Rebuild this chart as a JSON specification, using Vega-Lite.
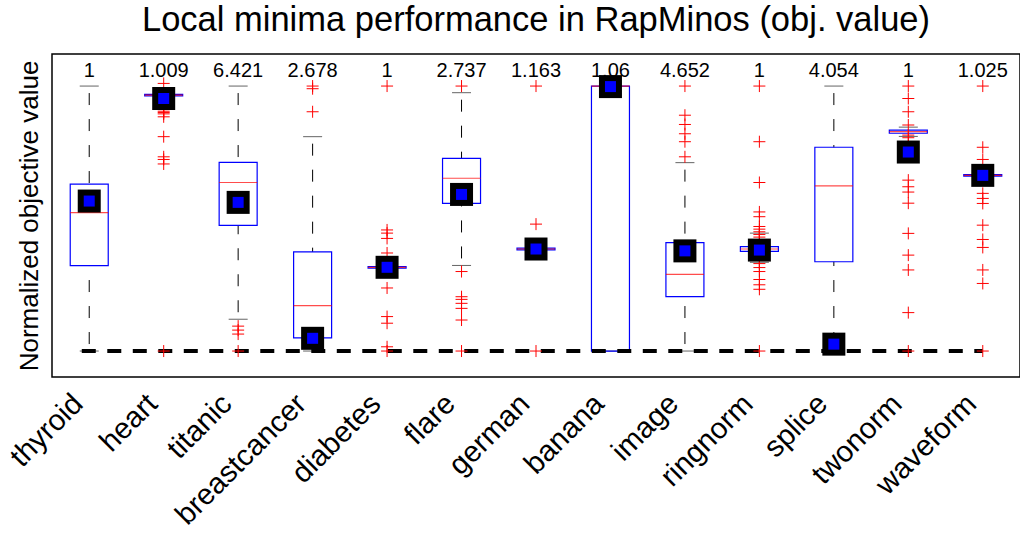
{
  "$schema": "https://vega.github.io/schema/vega-lite/v6.json",
  "autosize": "none",
  "width": 968,
  "height": 323,
  "padding": {"left": 52, "top": 54, "right": 0, "bottom": 158},
  "background": "white",
  "config": {
    "view": {"stroke": "black", "strokeWidth": 1.5},
    "font": "Liberation Sans"
  },
  "title": {
    "text": "Local minima performance in RapMinos (obj. value)",
    "fontSize": 34.5,
    "font": "Liberation Sans",
    "fontWeight": "normal",
    "color": "black",
    "anchor": "middle",
    "baseline": "alphabetic",
    "offset": 22,
    "dy": 33
  },
  "datasets": {
    "boxes": [
      {"cat": "thyroid", "lower": 0, "q1": 0.322, "median": 0.522, "q3": 0.63, "upper": 1.0, "mean": 0.566, "label": "1"},
      {"cat": "heart", "lower": 0.963, "q1": 0.963, "median": 0.966, "q3": 0.969, "upper": 0.969, "mean": 0.953, "label": "1.009"},
      {"cat": "titanic", "lower": 0.12, "q1": 0.474, "median": 0.636, "q3": 0.712, "upper": 1.0, "mean": 0.561, "label": "6.421"},
      {"cat": "breastcancer", "lower": 0.0, "q1": 0.05, "median": 0.171, "q3": 0.374, "upper": 0.809, "mean": 0.048, "label": "2.678"},
      {"cat": "diabetes", "lower": 0.313, "q1": 0.313, "median": 0.316, "q3": 0.319, "upper": 0.319, "mean": 0.316, "label": "1"},
      {"cat": "flare", "lower": 0.323, "q1": 0.557, "median": 0.652, "q3": 0.727, "upper": 0.975, "mean": 0.591, "label": "2.737"},
      {"cat": "german", "lower": 0.382, "q1": 0.382, "median": 0.385, "q3": 0.388, "upper": 0.388, "mean": 0.385, "label": "1.163"},
      {"cat": "banana", "lower": 0, "q1": 0, "median": 1.0, "q3": 1.0, "upper": 1.0, "mean": 0.998, "label": "1.06"},
      {"cat": "image", "lower": 0, "q1": 0.205, "median": 0.289, "q3": 0.409, "upper": 0.711, "mean": 0.378, "label": "4.652"},
      {"cat": "ringnorm", "lower": 0.335, "q1": 0.376, "median": 0.385, "q3": 0.394, "upper": 0.445, "mean": 0.381, "label": "1"},
      {"cat": "splice", "lower": 0, "q1": 0.337, "median": 0.623, "q3": 0.769, "upper": 1.0, "mean": 0.026, "label": "4.054"},
      {"cat": "twonorm", "lower": 0.81, "q1": 0.822, "median": 0.828, "q3": 0.834, "upper": 0.845, "mean": 0.751, "label": "1"},
      {"cat": "waveform", "lower": 0.66, "q1": 0.66, "median": 0.663, "q3": 0.666, "upper": 0.666, "mean": 0.663, "label": "1.025"}
    ],
    "outliers": [
      {"cat": "heart", "v": 1.01}, {"cat": "heart", "v": 0.905}, {"cat": "heart", "v": 0.9}, {"cat": "heart", "v": 0.895},
      {"cat": "heart", "v": 0.884}, {"cat": "heart", "v": 0.809}, {"cat": "heart", "v": 0.733}, {"cat": "heart", "v": 0.723},
      {"cat": "heart", "v": 0.706}, {"cat": "heart", "v": 0.0},
      {"cat": "titanic", "v": 0.094}, {"cat": "titanic", "v": 0.079}, {"cat": "titanic", "v": 0.064}, {"cat": "titanic", "v": 0.0},
      {"cat": "breastcancer", "v": 1.0}, {"cat": "breastcancer", "v": 0.99}, {"cat": "breastcancer", "v": 0.903},
      {"cat": "diabetes", "v": 1.0}, {"cat": "diabetes", "v": 0.457}, {"cat": "diabetes", "v": 0.445}, {"cat": "diabetes", "v": 0.425},
      {"cat": "diabetes", "v": 0.37}, {"cat": "diabetes", "v": 0.238}, {"cat": "diabetes", "v": 0.13}, {"cat": "diabetes", "v": 0.105},
      {"cat": "diabetes", "v": 0.016}, {"cat": "diabetes", "v": 0.0},
      {"cat": "flare", "v": 1.0}, {"cat": "flare", "v": 0.3}, {"cat": "flare", "v": 0.205}, {"cat": "flare", "v": 0.195},
      {"cat": "flare", "v": 0.18}, {"cat": "flare", "v": 0.161}, {"cat": "flare", "v": 0.117}, {"cat": "flare", "v": 0.0},
      {"cat": "german", "v": 1.0}, {"cat": "german", "v": 0.479}, {"cat": "german", "v": 0.0},
      {"cat": "image", "v": 1.0}, {"cat": "image", "v": 0.89}, {"cat": "image", "v": 0.855}, {"cat": "image", "v": 0.82},
      {"cat": "image", "v": 0.79}, {"cat": "image", "v": 0.733},
      {"cat": "ringnorm", "v": 1.0}, {"cat": "ringnorm", "v": 0.79}, {"cat": "ringnorm", "v": 0.636}, {"cat": "ringnorm", "v": 0.525},
      {"cat": "ringnorm", "v": 0.507}, {"cat": "ringnorm", "v": 0.47}, {"cat": "ringnorm", "v": 0.46}, {"cat": "ringnorm", "v": 0.45},
      {"cat": "ringnorm", "v": 0.44}, {"cat": "ringnorm", "v": 0.43}, {"cat": "ringnorm", "v": 0.42}, {"cat": "ringnorm", "v": 0.345},
      {"cat": "ringnorm", "v": 0.33}, {"cat": "ringnorm", "v": 0.315}, {"cat": "ringnorm", "v": 0.3}, {"cat": "ringnorm", "v": 0.27},
      {"cat": "ringnorm", "v": 0.25}, {"cat": "ringnorm", "v": 0.233}, {"cat": "ringnorm", "v": 0.0},
      {"cat": "twonorm", "v": 1.0}, {"cat": "twonorm", "v": 0.953}, {"cat": "twonorm", "v": 0.903}, {"cat": "twonorm", "v": 0.853},
      {"cat": "twonorm", "v": 0.815}, {"cat": "twonorm", "v": 0.805}, {"cat": "twonorm", "v": 0.645}, {"cat": "twonorm", "v": 0.62},
      {"cat": "twonorm", "v": 0.6}, {"cat": "twonorm", "v": 0.558}, {"cat": "twonorm", "v": 0.444}, {"cat": "twonorm", "v": 0.362},
      {"cat": "twonorm", "v": 0.306}, {"cat": "twonorm", "v": 0.145}, {"cat": "twonorm", "v": 0.0},
      {"cat": "waveform", "v": 1.0}, {"cat": "waveform", "v": 0.769}, {"cat": "waveform", "v": 0.723}, {"cat": "waveform", "v": 0.595},
      {"cat": "waveform", "v": 0.576}, {"cat": "waveform", "v": 0.557}, {"cat": "waveform", "v": 0.475}, {"cat": "waveform", "v": 0.421},
      {"cat": "waveform", "v": 0.391}, {"cat": "waveform", "v": 0.306}, {"cat": "waveform", "v": 0.255}, {"cat": "waveform", "v": 0.0}
    ],
    "zeroline": [{"start": "thyroid", "end": "waveform", "v": 0}]
  },
  "encoding": {
    "x": {
      "field": "cat", "type": "nominal", "sort": null,
      "scale": {"domain": ["thyroid","heart","titanic","breastcancer","diabetes","flare","german","banana","image","ringnorm","splice","twonorm","waveform"], "paddingInner": 0, "paddingOuter": 0},
      "axis": {"title": null, "ticks": false, "domain": false, "labelAngle": -45, "labelAlign": "right", "labelBaseline": "top",
               "labelFontSize": 29.5, "labelColor": "black", "labelPadding": 12, "labelOffset": -21, "labelFont": "Liberation Sans"}
    }
  },
  "layer": [
    {
      "data": {"name": "boxes"},
      "mark": {"type": "rule", "color": "black", "strokeWidth": 1, "strokeDash": [12, 14], "strokeDashOffset": 19},
      "encoding": {
        "y": {"field": "upper", "type": "quantitative",
              "scale": {"domain": [-0.098, 1.121], "nice": false, "zero": false},
              "axis": {"title": "Normalized objective value", "labels": false, "ticks": false, "domain": false, "grid": false,
                       "titleFontSize": 26, "titleFont": "Liberation Sans", "titleFontWeight": "normal", "titleColor": "black", "titlePadding": 10}},
        "y2": {"field": "q3"}
      }
    },
    {
      "data": {"name": "boxes"},
      "mark": {"type": "rule", "color": "black", "strokeWidth": 1, "strokeDash": [12, 14], "strokeDashOffset": 19},
      "encoding": {
        "y": {"field": "lower", "type": "quantitative"},
        "y2": {"field": "q1"}
      }
    },
    {
      "data": {"name": "boxes"},
      "mark": {"type": "tick", "color": "#222222", "size": 19, "thickness": 1},
      "encoding": {"y": {"field": "upper", "type": "quantitative"}}
    },
    {
      "data": {"name": "boxes"},
      "mark": {"type": "tick", "color": "#222222", "size": 19, "thickness": 1},
      "encoding": {"y": {"field": "lower", "type": "quantitative"}}
    },
    {
      "data": {"name": "boxes"},
      "mark": {"type": "bar", "filled": false, "color": "#0000ff", "size": 38, "strokeWidth": 1.2},
      "encoding": {"y": {"field": "q1", "type": "quantitative"}, "y2": {"field": "q3"}}
    },
    {
      "data": {"name": "boxes"},
      "mark": {"type": "tick", "color": "#ff0000", "size": 38, "thickness": 1.2},
      "encoding": {"y": {"field": "median", "type": "quantitative"}}
    },
    {
      "data": {"name": "zeroline"},
      "mark": {"type": "rule", "color": "black", "strokeWidth": 4, "strokeDash": [14, 11.5]},
      "encoding": {
        "x": {"field": "start", "type": "nominal", "bandPosition": 0.4},
        "x2": {"field": "end", "bandPosition": 0.5},
        "y": {"field": "v", "type": "quantitative"}
      }
    },
    {
      "data": {"name": "outliers"},
      "mark": {"type": "point", "shape": "M-1,0L1,0M0,-1L0,1", "size": 144, "filled": false, "color": "#ff0000", "strokeWidth": 1, "opacity": 1},
      "encoding": {"y": {"field": "v", "type": "quantitative"}}
    },
    {
      "data": {"name": "boxes"},
      "mark": {"type": "point", "shape": "square", "size": 529, "filled": true, "color": "black", "opacity": 1},
      "encoding": {"y": {"field": "mean", "type": "quantitative"}}
    },
    {
      "data": {"name": "boxes"},
      "mark": {"type": "point", "shape": "square", "size": 121, "filled": true, "color": "#0000ff", "opacity": 1},
      "encoding": {"y": {"field": "mean", "type": "quantitative"}}
    },
    {
      "data": {"name": "boxes"},
      "mark": {"type": "text", "fontSize": 20, "baseline": "alphabetic", "align": "center", "color": "black", "font": "Liberation Sans"},
      "encoding": {"y": {"datum": 1.034}, "text": {"field": "label"}}
    }
  ]
}
